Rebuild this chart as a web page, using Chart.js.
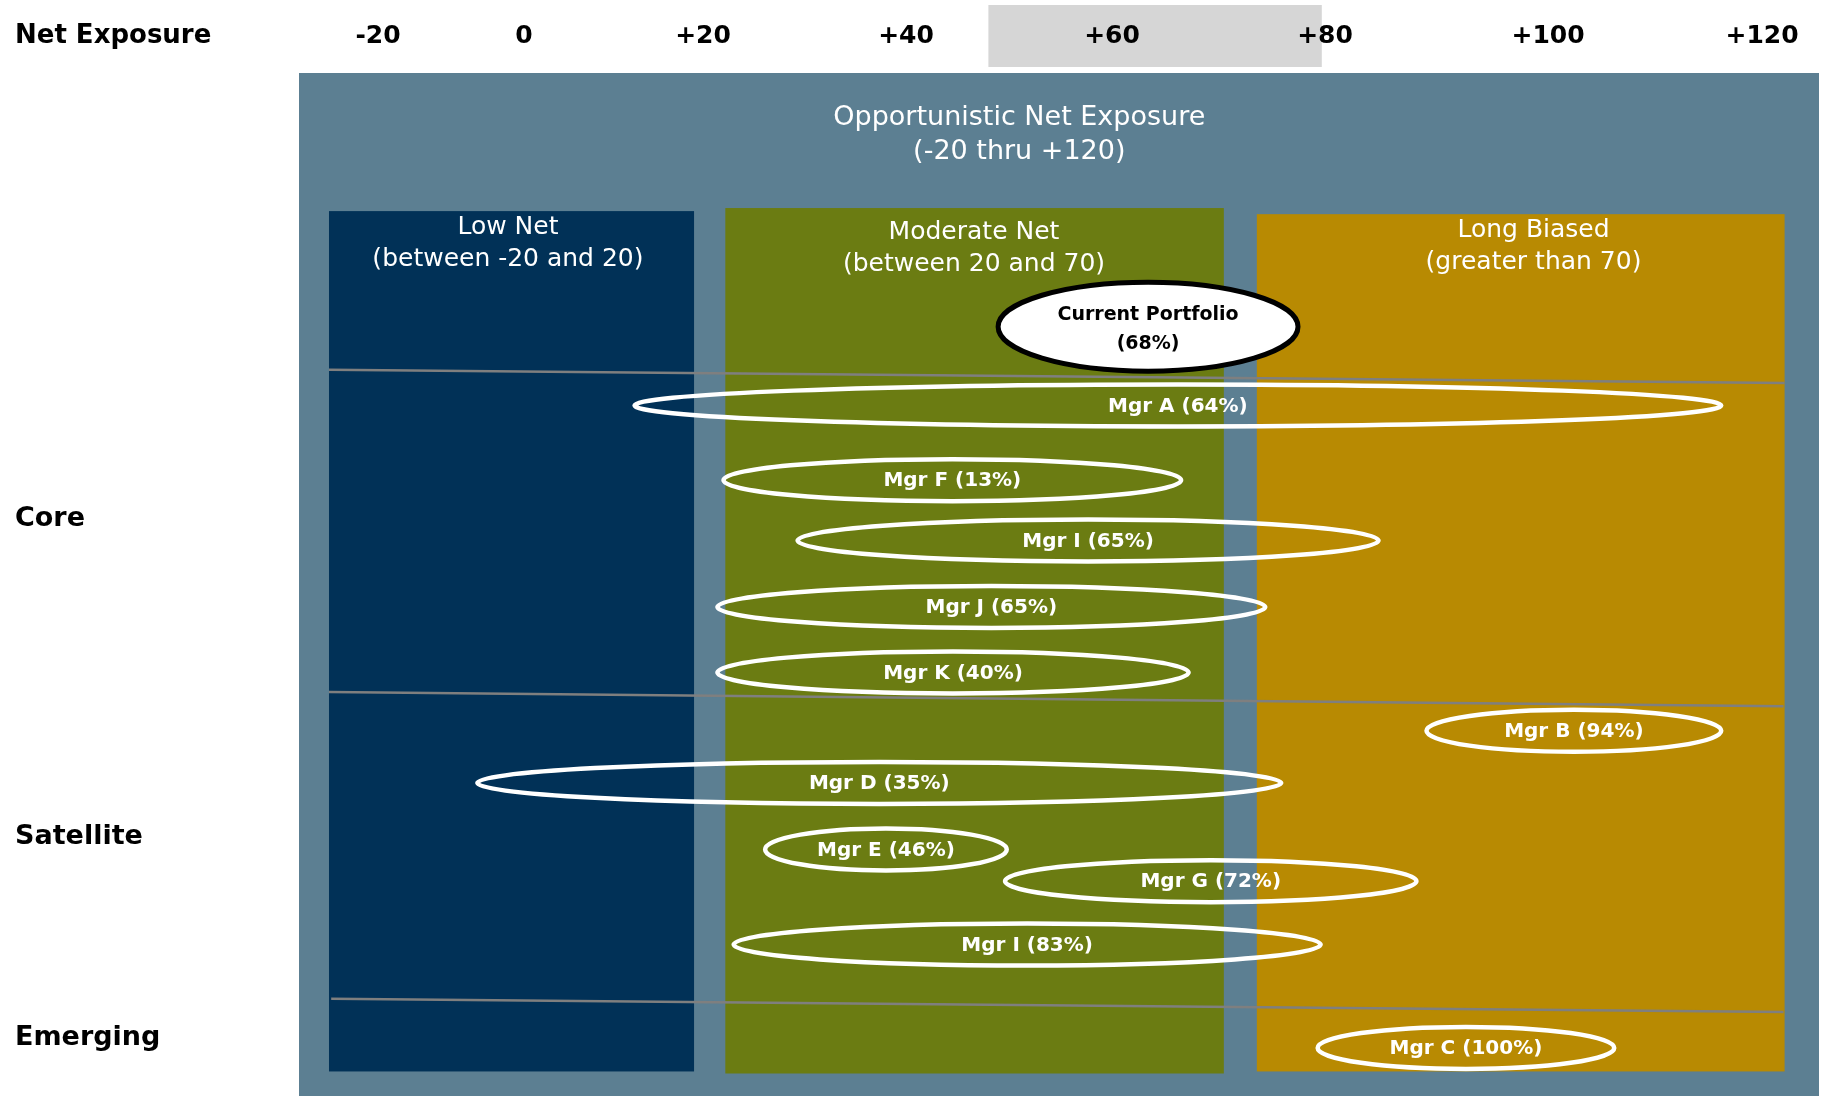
<!DOCTYPE html>
<html>
<head>
<meta charset="utf-8">
<title>Net Exposure</title>
<script src="https://cdn.jsdelivr.net/npm/chart.js@4.4.1/dist/chart.umd.min.js"></script>
<style>
  html, body { margin: 0; padding: 0; background: #fff; }
  canvas { display: block; }
</style>
</head>
<body>
<canvas id="exposureChart" width="1822" height="1096"></canvas>
<script>
// header ticks (net exposure)
const tickValues = [-20, 0, 20, 40, 60, 80, 100, 120];
const highlightRange = [48, 79.7];

// row groups on the left (y runs 0..100 down the panel)
const rowLabels = ['Core', 'Satellite', 'Emerging'];
const rowValues = [43.6, 74.7, 94.3];

// zone boxes
const zoneNames = ['Low Net', 'Moderate Net', 'Long Biased'];
const zoneNotes = ['(between -20 and 20)', '(between 20 and 70)', '(greater than 70)'];
const zoneFrom = [-26.7, 22.2, 73.6];
const zoneTo = [19.0, 70.5, 122.1];
const zoneTop = [13.5, 13.2, 13.8];
const zoneBottom = [97.6, 97.8, 97.6];
const zoneLabelX = [-2.2, 46.6, 98.7];
const zoneLabelRow = [15.1, 15.6, 15.4];

const outerTitle = ['Opportunistic Net Exposure', '(-20 thru +120)'];
const outerTitleX = 51;
const outerTitleRows = [4.35, 7.75];

// managers: low / high net exposure and row
const managers = ['Mgr A (64%)', 'Mgr F (13%)', 'Mgr I (65%)', 'Mgr J (65%)', 'Mgr K (40%)',
  'Mgr B (94%)', 'Mgr D (35%)', 'Mgr E (46%)', 'Mgr G (72%)', 'Mgr I (83%)', 'Mgr C (100%)'];
const mgrLow = [12.1, 21.8, 29.1, 21.2, 21.2, 88.9, -6.7, 25.9, 49.4, 22.8, 79.1];
const mgrHigh = [116.4, 66.7, 85.0, 74.6, 67.4, 116.4, 76.1, 50.0, 88.4, 79.8, 106.4];
const mgrRow = [32.5, 39.8, 45.7, 52.2, 58.6, 64.3, 69.4, 75.9, 79.0, 85.2, 95.3];

const portfolioLabel = ['Current Portfolio', '(68%)'];
const portfolioRange = [48.7, 77.7];
const portfolioRow = 24.8;

// group divider lines
const dividerFrom = [[-26.7, 29.0], [-26.7, 60.5], [-26.4, 90.5]];
const dividerTo = [[122.1, 30.3], [122.0, 61.9], [122.0, 91.8]];

const zoneColors = ['#013157', '#6b7c12', '#b88a02'];
const FONT = '"DejaVu Sans", sans-serif';

// the header ticks are not evenly spaced in the source, so the x scale is piecewise
const axisKnots = [-30.8, -20, 0, 20, 40, 60, 80, 100, 120, 125.3];
const axisGaps = [79, 146, 179, 203, 206, 213, 223, 214, 57];
const gapTotal = axisGaps.reduce((a, b) => a + b, 0);
const cumGaps = [0];
axisGaps.forEach((g) => cumGaps.push(cumGaps[cumGaps.length - 1] + g));

function toDecimal(v) {
  let i = 0;
  while (i < axisKnots.length - 2 && v > axisKnots[i + 1]) i++;
  const t = (v - axisKnots[i]) / (axisKnots[i + 1] - axisKnots[i]);
  return (cumGaps[i] + t * axisGaps[i]) / gapTotal;
}

function fromDecimal(d) {
  const p = d * gapTotal;
  let i = 0;
  while (i < axisGaps.length - 1 && p > cumGaps[i + 1]) i++;
  return axisKnots[i] + ((p - cumGaps[i]) / axisGaps[i]) * (axisKnots[i + 1] - axisKnots[i]);
}

class WarpScale extends Chart.LinearScale {
  getPixelForValue(value) {
    if (value === null || isNaN(value)) return NaN;
    return this.getPixelForDecimal(toDecimal(value));
  }
  getValueForPixel(pixel) {
    return fromDecimal(this.getDecimalForPixel(pixel));
  }
}
WarpScale.id = 'warp';
WarpScale.defaults = Chart.LinearScale.defaults;
Chart.register(WarpScale);

const shapes = {
  id: 'shapes',
  beforeDraw(chart) {
    const {ctx, chartArea: a} = chart;
    const x = chart.scales.x;
    const y = chart.scales.y;
    ctx.save();
    ctx.fillStyle = '#fff';
    ctx.fillRect(0, 0, chart.width, chart.height);

    // grey band in the header
    const h0 = x.getPixelForValue(highlightRange[0]);
    const h1 = x.getPixelForValue(highlightRange[1]);
    ctx.fillStyle = '#d6d6d6';
    ctx.fillRect(h0, x.top + 5, h1 - h0, x.bottom - x.top - 11);

    // opportunistic panel
    ctx.fillStyle = '#5c7f92';
    ctx.fillRect(a.left, a.top, a.right - a.left, a.bottom - a.top);

    ctx.textAlign = 'center';
    ctx.textBaseline = 'middle';
    ctx.fillStyle = '#fff';
    ctx.font = '27px ' + FONT;
    outerTitle.forEach((line, i) => {
      ctx.fillText(line, x.getPixelForValue(outerTitleX), y.getPixelForValue(outerTitleRows[i]));
    });

    zoneNames.forEach((name, i) => {
      const l = x.getPixelForValue(zoneFrom[i]);
      const r = x.getPixelForValue(zoneTo[i]);
      const t = y.getPixelForValue(zoneTop[i]);
      const b = y.getPixelForValue(zoneBottom[i]);
      ctx.fillStyle = zoneColors[i];
      ctx.fillRect(l, t, r - l, b - t);
      const lx = x.getPixelForValue(zoneLabelX[i]);
      const ly = y.getPixelForValue(zoneLabelRow[i]);
      ctx.fillStyle = '#fff';
      ctx.font = '25px ' + FONT;
      ctx.fillText(name, lx, ly);
      ctx.fillText(zoneNotes[i], lx, ly + 32);
    });
    ctx.restore();
  },
  afterDatasetsDraw(chart) {
    const {ctx} = chart;
    const x = chart.scales.x;
    const y = chart.scales.y;
    ctx.save();
    ctx.textAlign = 'center';
    ctx.textBaseline = 'middle';

    managers.forEach((name, i) => {
      const l = x.getPixelForValue(mgrLow[i]);
      const r = x.getPixelForValue(mgrHigh[i]);
      const cy = y.getPixelForValue(mgrRow[i]);
      ctx.beginPath();
      ctx.ellipse((l + r) / 2, cy, (r - l) / 2 - 2.25, 21, 0, 0, Math.PI * 2);
      ctx.strokeStyle = '#fff';
      ctx.lineWidth = 4.5;
      ctx.stroke();
      ctx.fillStyle = '#fff';
      ctx.font = 'bold 20px ' + FONT;
      ctx.fillText(name, (l + r) / 2, cy + 1);
    });

    // current portfolio
    const pl = x.getPixelForValue(portfolioRange[0]);
    const pr = x.getPixelForValue(portfolioRange[1]);
    const pc = y.getPixelForValue(portfolioRow);
    ctx.beginPath();
    ctx.ellipse((pl + pr) / 2, pc, (pr - pl) / 2 - 2.5, 44.5, 0, 0, Math.PI * 2);
    ctx.fillStyle = '#fff';
    ctx.fill();
    ctx.strokeStyle = '#000';
    ctx.lineWidth = 5;
    ctx.stroke();
    ctx.fillStyle = '#000';
    ctx.font = 'bold 19px ' + FONT;
    ctx.fillText(portfolioLabel[0], (pl + pr) / 2, pc - 12);
    ctx.fillText(portfolioLabel[1], (pl + pr) / 2, pc + 17);
    ctx.restore();
  },
  afterDraw(chart) {
    const {ctx} = chart;
    const y = chart.scales.y;
    ctx.save();
    ctx.fillStyle = '#000';
    ctx.font = 'bold 26px ' + FONT;
    ctx.textAlign = 'left';
    ctx.textBaseline = 'middle';
    ctx.fillText('Net Exposure', y.left, 36);
    ctx.restore();
  },
};

const ctx = document.getElementById('exposureChart').getContext('2d');

new Chart(ctx, {
  type: 'scatter',
  data: {
    datasets: dividerFrom.map((p, i) => ({
      data: [{x: p[0], y: p[1]}, {x: dividerTo[i][0], y: dividerTo[i][1]}],
      showLine: true,
      borderColor: '#7f7f7f',
      borderWidth: 2.5,
      pointRadius: 0,
      clip: false,
    })),
  },
  options: {
    responsive: false,
    animation: false,
    events: [],
    layout: {padding: {left: 15, right: 3, top: 0, bottom: 0}},
    plugins: {
      legend: {display: false},
      tooltip: {enabled: false},
    },
    scales: {
      x: {
        type: 'warp',
        position: 'top',
        min: axisKnots[0],
        max: axisKnots[axisKnots.length - 1],
        afterBuildTicks: (scale) => {
          scale.ticks = tickValues.map((v) => ({value: v}));
        },
        afterFit: (scale) => {
          scale.height = 73;
          scale.paddingLeft = 0;
          scale.paddingRight = 0;
        },
        grid: {display: false, drawTicks: false},
        border: {display: false},
        ticks: {
          autoSkip: false,
          maxRotation: 0,
          padding: 22,
          color: '#000',
          font: {family: FONT, size: 25, weight: 'bold'},
          callback: (v) => (v > 0 ? '+' + v : String(v)),
        },
      },
      y: {
        type: 'linear',
        reverse: true,
        min: 0,
        max: 100,
        afterBuildTicks: (scale) => {
          scale.ticks = rowValues.map((v) => ({value: v}));
        },
        afterFit: (scale) => {
          scale.width = 284;
          scale.paddingTop = 0;
          scale.paddingBottom = 0;
        },
        grid: {display: false, drawTicks: false},
        border: {display: false},
        ticks: {
          autoSkip: false,
          crossAlign: 'far',
          color: '#000',
          font: {family: FONT, size: 27, weight: 'bold'},
          callback: (v, i) => rowLabels[i],
        },
      },
    },
  },
  plugins: [shapes],
});
</script>
</body>
</html>
